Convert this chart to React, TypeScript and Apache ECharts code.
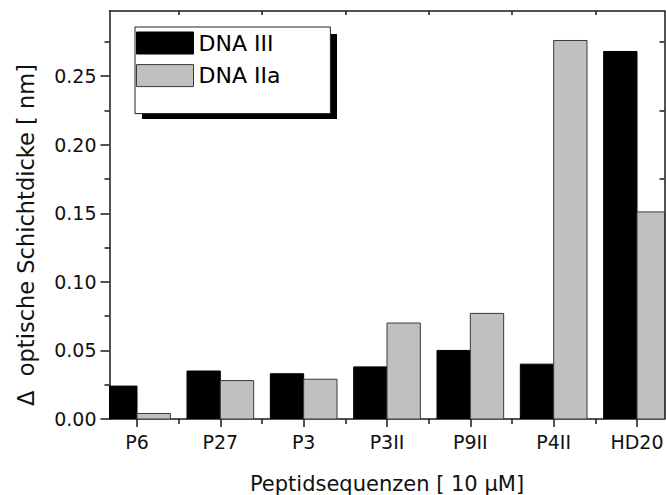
import React, { useEffect, useRef } from "react";
import * as echarts from "echarts";

const categories = ["P6", "P27", "P3", "P3II", "P9II", "P4II", "HD20"];
const dnaIII = [0.024, 0.035, 0.033, 0.038, 0.05, 0.04, 0.268];
const dnaIIa = [0.004, 0.028, 0.029, 0.07, 0.077, 0.276, 0.151];
const yMajorTicks = [0, 0.05, 0.1, 0.15, 0.2, 0.25];
const yMinorTicks = [0.025, 0.075, 0.125, 0.175, 0.225, 0.275];
const seriesNames = ["DNA III", "DNA IIa"];
const xTitle = "Peptidsequenzen [ 10 μM]";
const yTitle = "Δ  optische Schichtdicke [ nm]";

const FONT = "DejaVu Sans";
const LINE = "#1a1a1a";
const BAR_W = 0.4; // in category units
const COLORS = [
  { fill: "#000", stroke: "#000" },
  { fill: "#c0c0c0", stroke: "#3a3a3a" },
];

export default function App() {
  const ref = useRef<HTMLDivElement>(null);
  useEffect(() => {
    document.body.style.margin = "0";
    if (!ref.current) return;
    const chart = echarts.init(ref.current, undefined, { renderer: "svg" });
    const catIdx = categories.map((_, i) => i);
    const minorX = categories.slice(1).map((_, i) => i + 0.5);
    const xMin = -0.33;
    const xMax = categories.length - 1 + 0.33;
    const yMin = 0;
    const yMax = 0.2975;
    const lineStyle = { color: LINE, width: 1.5 };
    const axisLine = { show: true, onZero: false, lineStyle };
    const noLine = { show: false, onZero: false };

    const makeRender = (k: number) => (params: any, api: any) => {
      const x = api.value(0);
      const y = api.value(1);
      const p0 = api.coord([x, 0]);
      const p1 = api.coord([x, y]);
      const w = api.size([BAR_W, 0])[0];
      const rect = echarts.graphic.clipRectByRect(
        { x: p0[0] - w / 2, y: p1[1], width: w, height: p0[1] - p1[1] },
        params.coordSys
      );
      if (!rect) return null;
      return {
        type: "rect",
        shape: rect,
        style: { fill: COLORS[k].fill, stroke: COLORS[k].stroke, lineWidth: 1 },
      };
    };

    const option: any = {
      animation: false,
      backgroundColor: "#fff",
      grid: {
        left: 109.5,
        right: 1.5,
        top: 11,
        bottom: 76,
        containLabel: false,
        outerBoundsMode: "none",
      },
      legend: {
        orient: "vertical",
        left: 135,
        top: 27,
        itemWidth: 57,
        itemHeight: 22,
        itemGap: 9.6,
        padding: [4.5, 50, 26.5, 1],
        backgroundColor: "#fff",
        borderColor: "#222",
        borderWidth: 1,
        icon: "rect",
        selectedMode: false,
        z: 10,
        textStyle: { fontSize: 22, fontFamily: FONT, color: "#000" },
        data: seriesNames.map((name, k) => ({
          name,
          icon: "rect",
          itemStyle: { color: COLORS[k].fill, borderColor: COLORS[k].stroke, borderWidth: 1 },
        })),
      },
      graphic: [
        {
          type: "rect",
          left: 142,
          top: 34,
          z: 1,
          shape: { width: 195, height: 85 },
          style: { fill: "#000" },
        },
        {
          type: "text",
          x: 26,
          y: 235,
          rotation: Math.PI / 2,
          style: {
            text: yTitle,
            fontSize: 22.5,
            fontFamily: FONT,
            fill: "#111",
            align: "center",
            verticalAlign: "middle",
          },
        },
      ],
      xAxis: [
        {
          type: "value",
          min: xMin,
          max: xMax,
          position: "bottom",
          axisLine,
          axisTick: { show: true, customValues: catIdx, length: 8, lineStyle },
          axisLabel: {
            show: true,
            customValues: catIdx,
            formatter: (v: number) => categories[Math.round(v)],
            fontSize: 19,
            fontFamily: FONT,
            color: "#111",
            margin: 13,
          },
          splitLine: { show: false },
          name: xTitle,
          nameLocation: "middle",
          nameGap: 54,
          nameTextStyle: { fontSize: 21, fontFamily: FONT, color: "#111" },
        },
        {
          type: "value",
          min: xMin,
          max: xMax,
          position: "bottom",
          axisLine: noLine,
          axisTick: { show: true, customValues: minorX, length: 5, lineStyle },
          axisLabel: { show: false },
          splitLine: { show: false },
        },
        {
          type: "value",
          min: xMin,
          max: xMax,
          position: "top",
          axisLine,
          axisTick: { show: true, customValues: minorX, length: 4, inside: true, lineStyle },
          axisLabel: { show: false },
          splitLine: { show: false },
        },
      ],
      yAxis: [
        {
          type: "value",
          min: yMin,
          max: yMax,
          position: "left",
          axisLine,
          axisTick: { show: true, customValues: yMajorTicks, length: 9, lineStyle },
          axisLabel: {
            show: true,
            customValues: yMajorTicks,
            formatter: (v: number) => v.toFixed(2),
            fontSize: 19,
            fontFamily: FONT,
            color: "#111",
            margin: 13,
          },
          splitLine: { show: false },
        },
        {
          type: "value",
          min: yMin,
          max: yMax,
          position: "left",
          axisLine: noLine,
          axisTick: { show: true, customValues: yMinorTicks, length: 5, lineStyle },
          axisLabel: { show: false },
          splitLine: { show: false },
        },
        {
          type: "value",
          min: yMin,
          max: yMax,
          position: "right",
          axisLine,
          axisTick: { show: true, customValues: yMinorTicks, length: 5, inside: true, lineStyle },
          axisLabel: { show: false },
          splitLine: { show: false },
        },
      ],
      series: [
        {
          type: "custom",
          name: seriesNames[0],
          xAxisIndex: 0,
          yAxisIndex: 0,
          clip: true,
          itemStyle: { color: COLORS[0].fill },
          renderItem: makeRender(0),
          encode: { x: 0, y: 1 },
          data: dnaIII.map((v, i) => [i - BAR_W / 2, v]),
          z: 2,
        },
        {
          type: "custom",
          name: seriesNames[1],
          xAxisIndex: 0,
          yAxisIndex: 0,
          clip: true,
          itemStyle: { color: COLORS[1].fill },
          renderItem: makeRender(1),
          encode: { x: 0, y: 1 },
          data: dnaIIa.map((v, i) => [i + BAR_W / 2, v]),
          z: 2,
        },
      ],
    };
    chart.setOption(option);
    return () => chart.dispose();
  }, []);
  return (
    <div
      ref={ref}
      style={{ position: "absolute", left: 0, top: 0, width: 666, height: 495 }}
    />
  );
}
